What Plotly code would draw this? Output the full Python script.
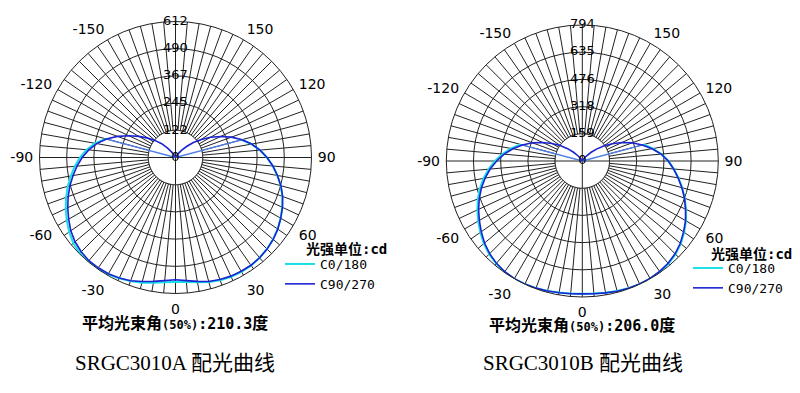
import plotly.graph_objects as go

# ---------------- data ----------------
angles_c90 = list(range(-180, 181, 5))   # C90/270 measured angles (deg)
angles_c0 = list(range(-105, 106, 5))    # C0/180 measured angles (deg)

A_c90 = [0, 0, 0, 0, 0, 3, 10, 28, 55, 88, 118, 152, 190, 232, 278, 322, 360, 392,
         420, 445, 468, 492, 514, 535, 555, 575, 590, 600, 606, 606, 604, 598, 590, 578, 566, 556,
         550,
         556, 566, 578, 584, 589, 591, 592, 589, 583, 574, 562, 547, 531, 513, 491, 466, 440,
         412, 382, 348, 310, 268, 224, 182, 142, 105, 70, 42, 20, 7, 2, 0, 0, 0, 0, 0]
A_c0 = [325, 368, 402, 430, 455, 478, 502, 524, 545, 565, 584, 600, 608, 612, 611, 607, 600, 592, 583, 572, 564,
        560,
        562, 570, 580, 588, 592, 594, 593, 589, 582, 573, 561, 546, 530, 512, 490, 465, 439, 411, 381, 347, 308]

B_c90 = [0, 0, 0, 0, 0, 2, 8, 20, 40, 72, 112, 158, 205, 255, 310, 362, 412, 458,
         500, 540, 576, 610, 640, 668, 694, 720, 745, 765, 780, 789, 793, 793, 790, 786, 781, 778,
         776,
         778, 782, 787, 790, 792, 791, 787, 779, 766, 747, 722, 696, 665, 635, 602, 568, 535,
         502, 462, 414, 362, 310, 255, 202, 152, 108, 70, 40, 20, 8, 2, 0, 0, 0, 0, 0]
B_c0 = [372, 422, 468, 510, 550, 586, 619, 649, 676, 702, 727, 750, 769, 782, 791, 794, 793, 790, 785, 780, 777,
        775,
        777, 781, 786, 790, 793, 793, 790, 783, 770, 751, 726, 699, 668, 637, 604, 570, 536, 503, 463, 418, 372]

A_rings = [0, 122.4, 244.8, 367.2, 489.6, 612]
B_rings = [0, 158.8, 317.6, 476.4, 635.2, 794]
A_ring_labels = ["0", "122", "245", "367", "490", "612"]
B_ring_labels = ["0", "159", "318", "476", "635", "794"]

angle_tick_vals = [0, 30, 60, 90, 120, 150, 210, 240, 270, 300, 330]
angle_tick_labels = ["0", "30", "60", "90", "120", "150", "-150", "-120", "-90", "-60", "-30"]

series_names = ["C0/180", "C90/270"]
beam_angles = ["210.3", "206.0"]
captions = ["SRGC3010A 配光曲线", "SRGC3010B 配光曲线"]
unit_title = "光强单位:cd"

# ---------------- styling ----------------
W, H = 800, 393
RADIUS_PX = 136
CYAN = "#19dfe6"
BLUE = "#1b23d2"
LINK = "#4f7fe6"
GRID = "#222222"
TXT = "#000000"

grid_vals = list(range(0, 360, 5))
grid_text = [angle_tick_labels[angle_tick_vals.index(v)] if v in angle_tick_vals else "" for v in grid_vals]


def px_domain(cx, cy, r):
    return dict(x=[(cx - r) / W, (cx + r) / W], y=[1 - (cy + r) / H, 1 - (cy - r) / H])


def polar_layout(dom, rings):
    return dict(
        domain=dom,
        bgcolor="white",
        angularaxis=dict(rotation=270, direction="counterclockwise", tickmode="array",
                         tickvals=grid_vals, ticktext=grid_text, showgrid=True, gridcolor=GRID,
                         gridwidth=1, showline=True, linecolor=GRID, linewidth=1,
                         ticks="outside", ticklen=3, tickcolor="rgba(0,0,0,0)",
                         tickfont=dict(family="DejaVu Sans", size=14, color=TXT)),
        radialaxis=dict(range=[0, rings[-1]], tickmode="array", tickvals=rings[1:-1], showgrid=True,
                        gridcolor=GRID, gridwidth=1, showline=False, showticklabels=False, ticks=""),
    )


fig = go.Figure()

charts = [
    ("polar", "legend", A_c0, A_c90, A_rings, A_ring_labels),
    ("polar2", "legend2", B_c0, B_c90, B_rings, B_ring_labels),
]

for sp, lg, c0, c90, rings, rlabels in charts:
    inner = rings[1]
    # white inner disk (hides the 5-degree spokes inside the first ring)
    disk_t = list(range(0, 361, 2))
    fig.add_trace(go.Scatterpolar(theta=disk_t, r=[inner] * len(disk_t), mode="lines", fill="toself",
                                  fillcolor="white", line=dict(color=GRID, width=1), subplot=sp,
                                  showlegend=False, hoverinfo="skip"))
    # main cross through the centre
    fig.add_trace(go.Scatterpolar(theta=[0, 180, None, 90, 270], r=[inner, inner, None, inner, inner],
                                  mode="lines", line=dict(color=GRID, width=1), subplot=sp,
                                  showlegend=False, hoverinfo="skip"))
    # connecting radial segments of C0/180 to the centre
    fig.add_trace(go.Scatterpolar(theta=[angles_c0[0], angles_c0[0], None, angles_c0[-1], angles_c0[-1]],
                                  r=[0, c0[0], None, 0, c0[-1]], mode="lines",
                                  line=dict(color=LINK, width=1.3), subplot=sp, showlegend=False,
                                  hoverinfo="skip"))
    fig.add_trace(go.Scatterpolar(theta=angles_c0, r=c0, mode="lines", name=series_names[0],
                                  line=dict(color=CYAN, width=2), subplot=sp, legend=lg))
    fig.add_trace(go.Scatterpolar(theta=angles_c90, r=c90, mode="lines", name=series_names[1],
                                  line=dict(color=BLUE, width=1.6), subplot=sp, legend=lg))
    # radial scale labels along the 180 degree line (text sits just above each ring)
    drop = 6.5 * rings[-1] / RADIUS_PX
    label_r = [rings[0]] + [v - drop for v in rings[1:]]
    label_pos = ["middle center"] + ["top center"] * (len(rings) - 1)
    fig.add_trace(go.Scatterpolar(theta=[180] * len(rings), r=label_r, text=rlabels, mode="text",
                                  textposition=label_pos,
                                  textfont=dict(family="DejaVu Sans", size=13, color=TXT),
                                  subplot=sp, showlegend=False, hoverinfo="skip", cliponaxis=False))

legend_style = dict(xanchor="left", yanchor="top", bgcolor="rgba(0,0,0,0)", borderwidth=0,
                    font=dict(family="DejaVu Sans Mono", size=13, color=TXT), tracegroupgap=0,
                    itemclick=False, itemdoubleclick=False)

annotations = []
beam_pos = [(175, 323), (582, 325)]
cap_pos = [(175, 363), (583, 363)]
unit_pos = [(304, 249), (709, 254)]
for i in range(2):
    bx, by = beam_pos[i]
    annotations.append(dict(
        x=bx / W, y=1 - by / H, xref="paper", yref="paper", showarrow=False,
        xanchor="center", yanchor="middle",
        text="<b><span style='font-size:16px'>平均光束角</span><span style='font-size:12px'>(50%)</span>:"
             + beam_angles[i] + "<span style='font-size:16px'>度</span></b>",
        font=dict(family="DejaVu Sans Mono, Noto Sans CJK SC", size=15, color=TXT)))
    cx, cy = cap_pos[i]
    annotations.append(dict(
        x=cx / W, y=1 - cy / H, xref="paper", yref="paper", showarrow=False,
        xanchor="center", yanchor="middle", text=captions[i],
        font=dict(family="Liberation Serif, Noto Sans CJK SC", size=21, color=TXT)))
    ux, uy = unit_pos[i]
    annotations.append(dict(
        x=ux / W, y=1 - uy / H, xref="paper", yref="paper", showarrow=False,
        xanchor="left", yanchor="middle", text="<b>" + unit_title + "</b>",
        font=dict(family="DejaVu Sans Mono, Noto Sans CJK SC", size=14, color=TXT)))

fig.update_layout(
    width=W, height=H, margin=dict(l=0, r=0, t=0, b=0),
    paper_bgcolor="white", plot_bgcolor="white",
    polar=polar_layout(px_domain(175.5, 157.5, RADIUS_PX), A_rings),
    polar2=polar_layout(px_domain(582.3, 161, RADIUS_PX), B_rings),
    legend=dict(x=280 / W, y=1 - 249 / H, **legend_style),
    legend2=dict(x=688 / W, y=1 - 253 / H, **legend_style),
    annotations=annotations,
)

fig.write_html("out.html", config={"displayModeBar": False},
               post_script="document.body.style.margin='0';document.body.style.overflow='hidden';")
